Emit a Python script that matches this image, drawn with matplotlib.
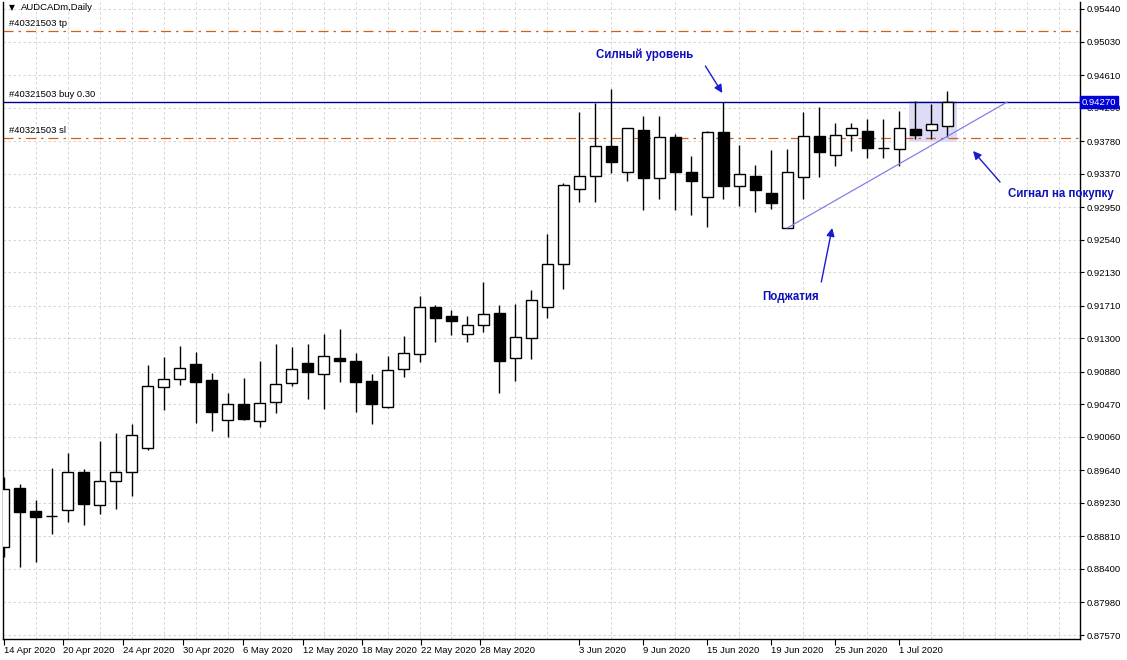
import matplotlib.pyplot as plt
from matplotlib.patches import Rectangle

# AUDCADm daily bars, 14 Apr 2020 .. 6 Jul 2020
opens = [0.88676, 0.89418, 0.89129, 0.89064, 0.89141, 0.89619, 0.89204, 0.89506, 0.89619, 0.89921,
         0.90688, 0.90788, 0.90977, 0.90776, 0.90273, 0.90474, 0.90260, 0.90499, 0.90738, 0.90989,
         0.90851, 0.91052, 0.91015, 0.90763, 0.90436, 0.90914, 0.91103, 0.91693, 0.91580, 0.91354,
         0.91467, 0.91618, 0.91052, 0.91304, 0.91693, 0.92234, 0.93177, 0.93340, 0.93717, 0.93391,
         0.93919, 0.93315, 0.93831, 0.93391, 0.93076, 0.93894, 0.93215, 0.93340, 0.93127, 0.92687,
         0.93328, 0.93843, 0.93604, 0.93856, 0.93906, 0.93695, 0.93680, 0.93931, 0.93919, 0.93969]
highs = [0.89556, 0.89468, 0.89267, 0.89669, 0.89858, 0.89657, 0.90009, 0.90109, 0.90223, 0.90964,
         0.91065, 0.91203, 0.91128, 0.90864, 0.90612, 0.90801, 0.91015, 0.91228, 0.91191, 0.91228,
         0.91354, 0.91417, 0.91115, 0.90851, 0.91077, 0.91329, 0.91832, 0.91719, 0.91656, 0.91580,
         0.92008, 0.91719, 0.91731, 0.91907, 0.92611, 0.93252, 0.94145, 0.94258, 0.94434, 0.93950,
         0.94095, 0.94095, 0.93868, 0.93592, 0.93906, 0.94270, 0.93730, 0.93479, 0.93667, 0.93680,
         0.94145, 0.94208, 0.94007, 0.94007, 0.94057, 0.94057, 0.94158, 0.94283, 0.94246, 0.94409]
lows = [0.88550, 0.88425, 0.88488, 0.88840, 0.88990, 0.88953, 0.89091, 0.89154, 0.89317, 0.89896,
        0.90399, 0.90713, 0.90235, 0.90134, 0.90059, 0.90273, 0.90185, 0.90361, 0.90700, 0.90537,
        0.90411, 0.90751, 0.90373, 0.90223, 0.90424, 0.90813, 0.91002, 0.91253, 0.91341, 0.91253,
        0.91379, 0.90612, 0.90763, 0.91040, 0.91555, 0.91920, 0.93013, 0.93013, 0.93378, 0.93277,
        0.92913, 0.93051, 0.92913, 0.92850, 0.92699, 0.93051, 0.92963, 0.92888, 0.92926, 0.92687,
        0.93051, 0.93328, 0.93466, 0.93655, 0.93567, 0.93567, 0.93466, 0.93806, 0.93806, 0.93831]
closes = [0.89405, 0.89116, 0.89053, 0.89068, 0.89619, 0.89217, 0.89506, 0.89619, 0.90084, 0.90700,
          0.90788, 0.90927, 0.90751, 0.90373, 0.90474, 0.90285, 0.90487, 0.90725, 0.90914, 0.90876,
          0.91077, 0.91015, 0.90751, 0.90474, 0.90901, 0.91115, 0.91693, 0.91555, 0.91517, 0.91467,
          0.91605, 0.91015, 0.91316, 0.91781, 0.92234, 0.93227, 0.93340, 0.93717, 0.93516, 0.93944,
          0.93315, 0.93831, 0.93391, 0.93277, 0.93894, 0.93215, 0.93366, 0.93164, 0.93001, 0.93391,
          0.93843, 0.93642, 0.93856, 0.93944, 0.93692, 0.93690, 0.93944, 0.93856, 0.93994, 0.94270]

price_ticks = [0.95440, 0.95030, 0.94610, 0.94200, 0.93780, 0.93370, 0.92950, 0.92540, 0.92130, 0.91710,
               0.91300, 0.90880, 0.90470, 0.90060, 0.89640, 0.89230, 0.88810, 0.88400, 0.87980, 0.87570]
date_labels = ["14 Apr 2020", "20 Apr 2020", "24 Apr 2020", "30 Apr 2020", "6 May 2020",
               "12 May 2020", "18 May 2020", "22 May 2020", "28 May 2020", "3 Jun 2020",
               "9 Jun 2020", "15 Jun 2020", "19 Jun 2020", "25 Jun 2020", "1 Jul 2020"]
date_pos = [0, 3.7, 7.45, 11.2, 14.95, 18.7, 22.4, 26.1, 29.8, 36, 40, 44, 48, 52, 56]

order_id = "#40321503"
tp_price = 0.95163
buy_price = 0.94270
sl_price = 0.93818

# trend line (squeeze) and signal box
trend_x = [49.0, 62.75]
trend_y = [0.92687, 0.94270]
box_x = (56.62, 59.62)
box_y = (0.93768, 0.94283)

plt.rcParams['font.family'] = ['Liberation Sans', 'DejaVu Sans']
fig = plt.figure(figsize=(11.27, 6.6), dpi=100)
ax = fig.add_axes([3 / 1127, 21 / 660, 1077 / 1127, 637 / 660])

ax.add_patch(Rectangle((box_x[0], box_y[0]), box_x[1] - box_x[0], box_y[1] - box_y[0],
                       facecolor='#dcdcf6', edgecolor='none', zorder=1))

n = len(opens)
xs = list(range(n))
ax.vlines(xs, lows, highs, color='black', lw=1.0, zorder=3)
bottoms = [min(o, c) for o, c in zip(opens, closes)]
heights = [abs(c - o) for o, c in zip(opens, closes)]
colors = ['white' if c >= o else 'black' for o, c in zip(opens, closes)]
ax.bar(xs, heights, bottom=bottoms, width=0.68, color=colors, edgecolor='black', lw=1.0, zorder=4)

ax.axhline(tp_price, color='#d2601a', lw=0.9, ls=(0, (8, 4, 2, 4)), zorder=2)
ax.axhline(sl_price, color='#d2601a', lw=0.9, ls=(0, (8, 4, 2, 4)), zorder=2)
ax.axhline(buy_price, color='#000090', lw=1.0, zorder=2)
ax.plot(trend_x, trend_y, color='#8080e6', lw=0.9, zorder=5)

ax.text(0.35, tp_price + 0.0004, order_id + " tp", fontsize=6.8, va='bottom', zorder=6)
ax.text(0.35, buy_price + 0.0004, order_id + " buy 0.30", fontsize=6.8, va='bottom', zorder=6)
ax.text(0.35, sl_price + 0.0004, order_id + " sl", fontsize=6.8, va='bottom', zorder=6)
ax.text(0.35, 0.95460, "\u25bc", fontsize=5.5, va='center', family='DejaVu Sans', zorder=6)
ax.text(1.05, 0.95460, "AUDCADm,Daily", fontsize=6.8, va='center', zorder=6)

blue = '#1010b8'
arrow = dict(arrowstyle='-|>', color='#1a1ad0', lw=1.0, mutation_scale=12, shrinkA=0, shrinkB=0)
ax.annotate("", xy=(44.94, 0.94384), xytext=(43.88, 0.94723), arrowprops=arrow)
ax.annotate("", xy=(51.81, 0.92687), xytext=(51.13, 0.92008), arrowprops=arrow)
ax.annotate("", xy=(60.62, 0.93655), xytext=(62.31, 0.93265), arrowprops=arrow)
ax.text(40.1, 0.94862, "Силный уровень", color=blue, fontsize=8.3, fontweight='bold',
        ha='center', va='center', zorder=6)
ax.text(49.2, 0.91819, "Поджатия", color=blue, fontsize=8.3, fontweight='bold',
        ha='center', va='center', zorder=6)
ax.text(66.1, 0.93114, "Сигнал на покупку", color=blue, fontsize=8.3, fontweight='bold',
        ha='center', va='center', clip_on=False, zorder=6)

ax.set_xlim(-0.05, 67.31)
ax.set_ylim(0.87520, 0.95528)

ax.yaxis.tick_right()
ax.set_yticks(price_ticks)
ax.set_yticklabels([f"{p:.5f}" for p in price_ticks], fontsize=6.8)
ax.tick_params(axis='y', direction='out', length=3, width=0.8, pad=2)
ax.set_xticks(date_pos)
ax.set_xticklabels(date_labels, fontsize=6.8, ha='left')
ax.tick_params(axis='x', direction='out', length=4, width=0.8, pad=1)
ax.set_xticks(range(0, 68, 2), minor=True)
ax.tick_params(axis='x', which='minor', length=0)

ax.grid(True, which='major', axis='y', color='#cfcfcf', ls=(0, (3, 3)), lw=0.6)
ax.grid(True, which='minor', axis='x', color='#cfcfcf', ls=(0, (3, 3)), lw=0.6)
ax.set_axisbelow(True)
for s in ['left', 'right', 'bottom']:
    ax.spines[s].set_linewidth(1.0)
ax.spines['top'].set_visible(False)

# current price marker on the price scale
ax.text(1.0015, buy_price, f"{buy_price:.5f}", transform=ax.get_yaxis_transform(),
        color='white', fontsize=6.8, va='center', ha='left', clip_on=False, zorder=10,
        bbox=dict(boxstyle='square,pad=0.15', facecolor='#0000d8', edgecolor='#0000d8'))

fig.savefig("out.png", dpi=100)
